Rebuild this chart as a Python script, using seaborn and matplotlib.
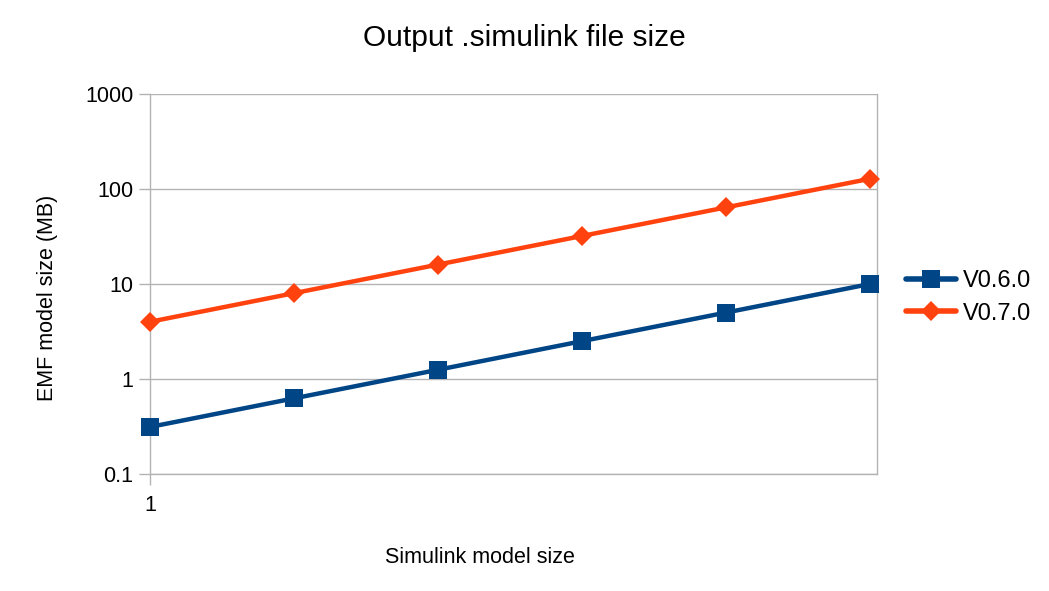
import numpy as np
import pandas as pd
import matplotlib
matplotlib.use("Agg")
import matplotlib.pyplot as plt
import seaborn as sns

# data
model_size = [1, 2, 4, 8, 16, 32]
v060_size = [0.3125, 0.625, 1.25, 2.5, 5, 10]
v070_size = [4, 8, 16, 32, 64, 128]
series_names = ["V0.6.0", "V0.7.0"]
y_ticks = [0.1, 1, 10, 100, 1000]
y_tick_labels = ["0.1", "1", "10", "100", "1000"]

df = pd.DataFrame({
    "size": model_size * 2,
    "mb": v060_size + v070_size,
    "version": [series_names[0]] * len(model_size) + [series_names[1]] * len(model_size),
})

sns.set_theme(style="white", rc={"xtick.bottom": True, "ytick.left": True,
                                 "text.color": "black", "axes.labelcolor": "black",
                                 "xtick.color": "black", "ytick.color": "black"})
plt.rcParams["font.family"] = ["Liberation Sans", "DejaVu Sans"]

fig = plt.figure(figsize=(10.49, 5.91), dpi=100)
ax = fig.add_axes([0.143, 0.198, 0.693, 0.643])

palette = {"V0.6.0": "#004586", "V0.7.0": "#ff420e"}
markers = {"V0.6.0": "s", "V0.7.0": "D"}
sns.lineplot(data=df, x="size", y="mb", hue="version", style="version",
             palette=palette, markers=markers, dashes=False, linewidth=3.2,
             markersize=12.5, markeredgewidth=0, ax=ax, zorder=3, clip_on=False)

# diamond a bit smaller than the square
for line in ax.get_lines():
    if line.get_marker() == "D":
        line.set_markersize(10)

ax.set_xscale("log")
ax.set_yscale("log")
ax.set_xlim(1, 33.1)
ax.set_ylim(0.1, 1000)
ax.set_xticks([1])
ax.set_xticklabels(["1"])
ax.xaxis.set_minor_locator(matplotlib.ticker.NullLocator())
ax.set_yticks(y_ticks)
ax.set_yticklabels(y_tick_labels)
ax.yaxis.set_minor_locator(matplotlib.ticker.NullLocator())
ax.tick_params(axis="both", which="major", labelsize=15.5, length=8, width=1,
               direction="out", pad=4, labelcolor="black", color="#b3b3b3")
ax.tick_params(axis="x", pad=7)

ax.grid(axis="y", color="#b3b3b3", linewidth=1)
for side in ["left", "right", "top", "bottom"]:
    ax.spines[side].set_color("#b3b3b3")
    ax.spines[side].set_linewidth(1)
ax.spines["top"].set_visible(False)

ax.set_xlabel("Simulink model size", fontsize=15.5)
ax.set_ylabel("EMF model size (MB)", fontsize=15.5)
ax.xaxis.set_label_coords(0.454, -0.192)
ax.yaxis.set_label_coords(-0.127, 0.463)

fig.suptitle("Output .simulink file size", fontsize=21.5, x=0.5, y=0.96)

leg = ax.legend(loc="center left", bbox_to_anchor=(1.027, 0.465), frameon=False,
                fontsize=17, handlelength=2.1, handletextpad=0.3, labelspacing=0.45,
                borderaxespad=0)
for h in leg.legend_handles:
    h.set_linewidth(4)

fig.savefig("out.png", dpi=100)
